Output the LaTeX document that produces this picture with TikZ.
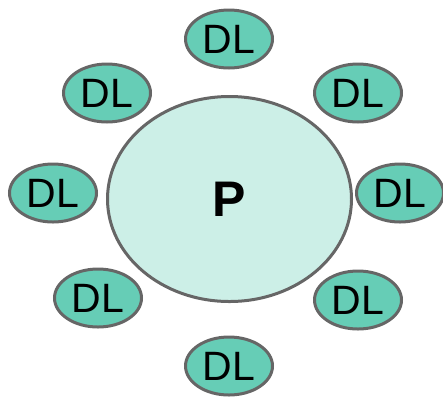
\documentclass[tikz,border=0pt]{standalone}
\usepackage{fontspec}
\setmainfont{Liberation Sans}
\usetikzlibrary{shapes.geometric}
\definecolor{dlfill}{HTML}{66CDB6}
\definecolor{pfill}{HTML}{CCEFE7}
\definecolor{rim}{HTML}{666666}
\begin{document}
\begin{tikzpicture}[x=1pt, y=-1pt,
    dlstyle/.style={ellipse, draw=rim, fill=dlfill, line width=3pt,
      minimum width=87pt, minimum height=58pt, inner sep=0pt,
      font=\fontsize{41}{43}\selectfont},
    pstyle/.style={ellipse, draw=rim, fill=pfill, line width=3pt,
      minimum width=244pt, minimum height=205pt, inner sep=0pt,
      font=\fontsize{50}{52}\selectfont\bfseries}]
  \useasboundingbox (0,0) rectangle (443,400);

  \node[pstyle] (P) at (229.5,199) {P};

  \node[dlstyle] (N)  at (229,39)  {DL};
  \node[dlstyle] (NW) at (107,93)  {DL};
  \node[dlstyle] (NE) at (358,93)  {DL};
  \node[dlstyle] (W)  at (53,193)  {DL};
  \node[dlstyle] (E)  at (400,193) {DL};
  \node[dlstyle] (SW) at (98,298)  {DL};
  \node[dlstyle] (SE) at (358,300) {DL};
  \node[dlstyle] (S)  at (229,366) {DL};
\end{tikzpicture}
\end{document}
